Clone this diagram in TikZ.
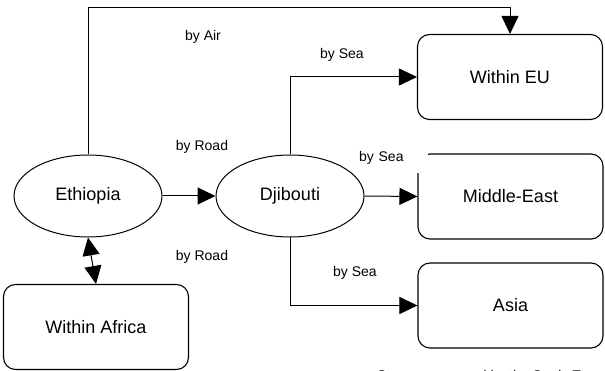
\documentclass[tikz,border=0pt]{standalone}
\usepackage{fontspec}
\setmainfont{Liberation Sans}
\usetikzlibrary{arrows.meta,shapes.geometric}
\begin{document}
\begin{tikzpicture}[x=1pt,y=-1pt,
  place/.style={draw,ellipse,line width=1pt,minimum width=148pt,minimum height=82pt,
    inner sep=0pt,font=\fontsize{18}{20}\selectfont},
  region/.style={draw,rectangle,rounded corners=12pt,line width=1.1pt,minimum width=185pt,
    minimum height=85pt,inner sep=0pt,font=\fontsize{18}{20}\selectfont},
  mode/.style={font=\fontsize{14}{16}\selectfont,inner sep=1pt},
  tip/.tip={Triangle[length=18pt,width=17pt]},
  route/.style={line width=1pt,-tip},
  twoway/.style={line width=1pt,tip-tip}
]
\useasboundingbox (0,0) rectangle (605,371);
\fill[white] (0,0) rectangle (605,371);

% places
\node[place] (eth) at (88,196) {Ethiopia};
\node[place] (dji) at (290,196) {Djibouti};

% destination regions
\node[region] (eu)   at (510,77)    {Within EU};
\node[region] (me)   at (510.5,196.5) {Middle-East};
\node[region] (asia) at (510.5,305.5) {Asia};
\node[region] (afr)  at (96,327)    {Within Africa};

% routes
\coordinate (airtop) at (510,8);
\draw[route] (eth.north) |- (airtop) -- (eu.north);
\draw[route] (eth.east) -- (dji.west);
\draw[twoway] (eth.south) -- (afr.north);
\draw[route] (dji.north) |- (eu.west);
\draw[route] (dji.east) -- (me.west);
\draw[route] (dji.south) |- (asia.west);

% transport modes
\node[mode] (lair)   at (203,37)  {by Air};
\node[mode] (lsea1)  at (342,55)  {by Sea};
\node[mode] (lroad1) at (202,147) {by Road};
\node[mode,fill=white,anchor=west,text width=68pt,align=left,minimum height=30pt,inner sep=1pt]
  (lsea2) at (358,158) {by Sea};
\node[mode] (lroad2) at (202,257) {by Road};
\node[mode] (lsea3)  at (355,273) {by Sea};

% source note, running off the lower edge
\node[mode,anchor=base west,inner sep=0pt] (src) at (377,380) {Source: prepared by the Study Team};
\end{tikzpicture}
\end{document}
